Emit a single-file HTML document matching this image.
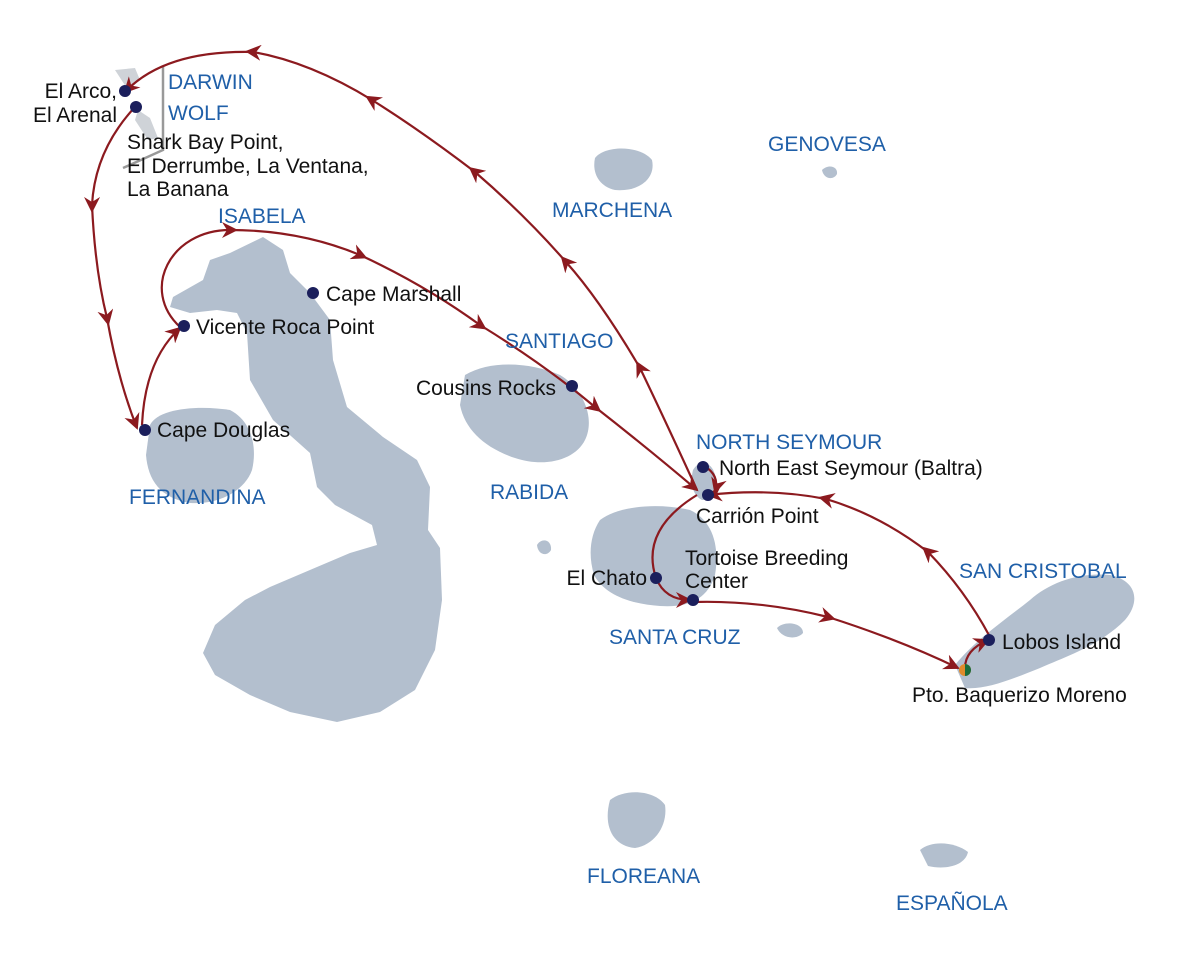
<!DOCTYPE html>
<html><head><meta charset="utf-8"><style>
html,body{margin:0;padding:0;background:#fff}
svg{display:block}
.l{font-family:"Liberation Sans",sans-serif;font-size:21px;fill:#111}
.b{font-family:"Liberation Sans",sans-serif;font-size:21px;fill:#1f5fa8}
.isl{fill:#b3bfce}
.r{fill:none;stroke:#8c1a1f;stroke-width:2.2}
.d{fill:#1b1f5c}
</style></head><body>
<svg width="1200" height="960" viewBox="0 0 1200 960">
<defs>
<marker id="e" viewBox="0 0 16 16" refX="14" refY="8" markerWidth="16" markerHeight="16" orient="auto" markerUnits="userSpaceOnUse"><path d="M0,0 L16,8 L0,16 L5,8z" fill="#8c1a1f"/></marker>
<marker id="m" viewBox="0 0 16 16" refX="8" refY="8" markerWidth="16" markerHeight="16" orient="auto" markerUnits="userSpaceOnUse"><path d="M0,0 L16,8 L0,16 L5,8z" fill="#8c1a1f"/></marker>
</defs>
<!-- islands -->
<path class="isl" d="M263,237 L283,250 L290,273 L310,293 L330,320 L333,360 L347,407 L383,437 L417,460 L430,487 L428,530 L440,548 L442,600 L435,650 L415,690 L380,712 L337,722 L290,712 L250,695 L215,675 L203,653 L215,625 L245,600 L270,587 L317,567 L350,553 L377,545 L372,525 L335,505 L317,487 L310,453 L273,420 L250,380 L247,333 L237,313 L217,310 L190,313 L170,307 L173,297 L203,280 L210,260 L230,253 Z"/>
<path class="isl" d="M150,425 C158,408 200,405 230,410 C250,420 258,445 252,470 C245,490 220,505 190,503 C160,498 148,480 146,455 Z"/>
<path class="isl" d="M465,375 C490,360 530,362 560,375 C585,390 595,420 585,440 C575,460 545,468 515,458 C485,448 465,430 460,405 Z"/>
<path class="isl" d="M600,520 C620,505 660,503 690,510 C712,520 720,545 715,575 C708,598 690,608 660,606 C630,604 605,595 594,575 C588,555 590,535 600,520 Z"/>
<path class="isl" d="M693,470 C700,458 712,462 715,475 C716,490 712,500 702,500 C692,495 690,482 693,470 Z"/>
<path class="isl" d="M955,665 C975,640 1005,620 1030,600 C1050,582 1080,572 1110,575 C1135,580 1142,600 1125,620 C1100,645 1070,655 1040,668 C1010,680 985,690 965,688 Z"/>
<path class="isl" d="M610,800 C625,788 655,790 665,805 C668,825 655,845 635,848 C612,846 603,825 610,800 Z"/>
<path class="isl" d="M920,850 C932,840 955,842 968,852 C965,866 945,870 928,866 Z"/>
<path class="isl" d="M595,158 C605,145 640,145 652,160 C656,178 640,192 615,190 C598,186 592,172 595,158 Z"/>
<path class="isl" d="M822,170 C828,164 838,166 837,174 C834,180 824,180 822,170 Z"/>
<path class="isl" d="M537,545 C542,537 552,540 551,550 C547,557 538,555 537,545 Z"/>
<path class="isl" d="M777,628 C785,620 803,623 803,633 C797,640 782,639 777,628 Z"/>
<path d="M115,70 L135,68 L140,80 L128,90 Z M138,110 L150,118 L158,138 L148,140 L135,120 Z" fill="#cfd3d8"/>
<polyline points="163,66 163,150 123,168" fill="none" stroke="#999" stroke-width="2.5"/>
<!-- routes -->
<path class="r" marker-mid="url(#m)" marker-end="url(#e)" d="M697,490 Q665,420 640,368 Q600,300 566,262 Q525,215 475,172 Q420,130 372,100 Q310,62 253,52 Q165,50 125,92"/>
<path class="r" marker-mid="url(#m)" marker-end="url(#e)" d="M135,107 Q95,150 92,205 Q95,270 107,318 Q118,380 137,428"/>
<path class="r" marker-end="url(#e)" d="M142,425 Q145,360 180,328"/>
<path class="r" marker-mid="url(#m)" marker-end="url(#e)" d="M180,327 C140,290 170,230 230,230 Q300,230 360,255 Q425,285 480,325 Q545,365 595,407 Q650,450 697,490"/>
<path class="r" marker-end="url(#e)" d="M697,495 Q640,530 656,578 Q665,600 690,600"/>
<path class="r" marker-mid="url(#m)" marker-end="url(#e)" d="M693,602 Q760,600 828,617 Q900,640 958,668"/>
<path class="r" marker-end="url(#e)" d="M965,668 Q965,650 988,640"/>
<path class="r" marker-mid="url(#m)" marker-end="url(#e)" d="M990,637 Q965,590 928,552 Q880,515 826,499 Q770,488 708,495"/>
<path class="r" marker-end="url(#e)" d="M704,466 Q720,475 715,492"/>
<!-- dots -->
<circle class="d" cx="125" cy="91" r="6"/><circle class="d" cx="136" cy="107" r="6"/>
<circle class="d" cx="313" cy="293" r="6"/><circle class="d" cx="184" cy="326" r="6"/>
<circle class="d" cx="145" cy="430" r="6"/><circle class="d" cx="572" cy="386" r="6"/>
<circle class="d" cx="703" cy="467" r="6"/><circle class="d" cx="708" cy="495" r="6"/>
<circle class="d" cx="656" cy="578" r="6"/><circle class="d" cx="693" cy="600" r="6"/>
<circle class="d" cx="989" cy="640" r="6"/>
<circle cx="965" cy="670" r="6" fill="#e08a2a"/><path d="M965,664 A6,6 0 0 1 965,676Z" fill="#1a6b3a"/>
<!-- labels -->
<text class="l" x="117" y="98" text-anchor="end">El Arco,</text>
<text class="l" x="117" y="122" text-anchor="end">El Arenal</text>
<text class="b" x="168" y="89">DARWIN</text>
<text class="b" x="168" y="120">WOLF</text>
<text class="l" x="127" y="149">Shark Bay Point,</text>
<text class="l" x="127" y="173">El Derrumbe, La Ventana,</text>
<text class="l" x="127" y="196">La Banana</text>
<text class="b" x="218" y="223">ISABELA</text>
<text class="l" x="326" y="301">Cape Marshall</text>
<text class="l" x="196" y="334">Vicente Roca Point</text>
<text class="l" x="157" y="437">Cape Douglas</text>
<text class="b" x="129" y="504">FERNANDINA</text>
<text class="b" x="768" y="151">GENOVESA</text>
<text class="b" x="552" y="217">MARCHENA</text>
<text class="b" x="505" y="348">SANTIAGO</text>
<text class="l" x="556" y="395" text-anchor="end">Cousins Rocks</text>
<text class="b" x="696" y="449">NORTH SEYMOUR</text>
<text class="l" x="719" y="475">North East Seymour (Baltra)</text>
<text class="l" x="696" y="523">Carrión Point</text>
<text class="b" x="490" y="499">RABIDA</text>
<text class="l" x="685" y="565">Tortoise Breeding</text>
<text class="l" x="685" y="588">Center</text>
<text class="l" x="647" y="585" text-anchor="end">El Chato</text>
<text class="b" x="609" y="644">SANTA CRUZ</text>
<text class="b" x="959" y="578">SAN CRISTOBAL</text>
<text class="l" x="1002" y="649">Lobos Island</text>
<text class="l" x="912" y="702">Pto. Baquerizo Moreno</text>
<text class="b" x="587" y="883">FLOREANA</text>
<text class="b" x="896" y="910">ESPAÑOLA</text>
</svg>
</body></html>
